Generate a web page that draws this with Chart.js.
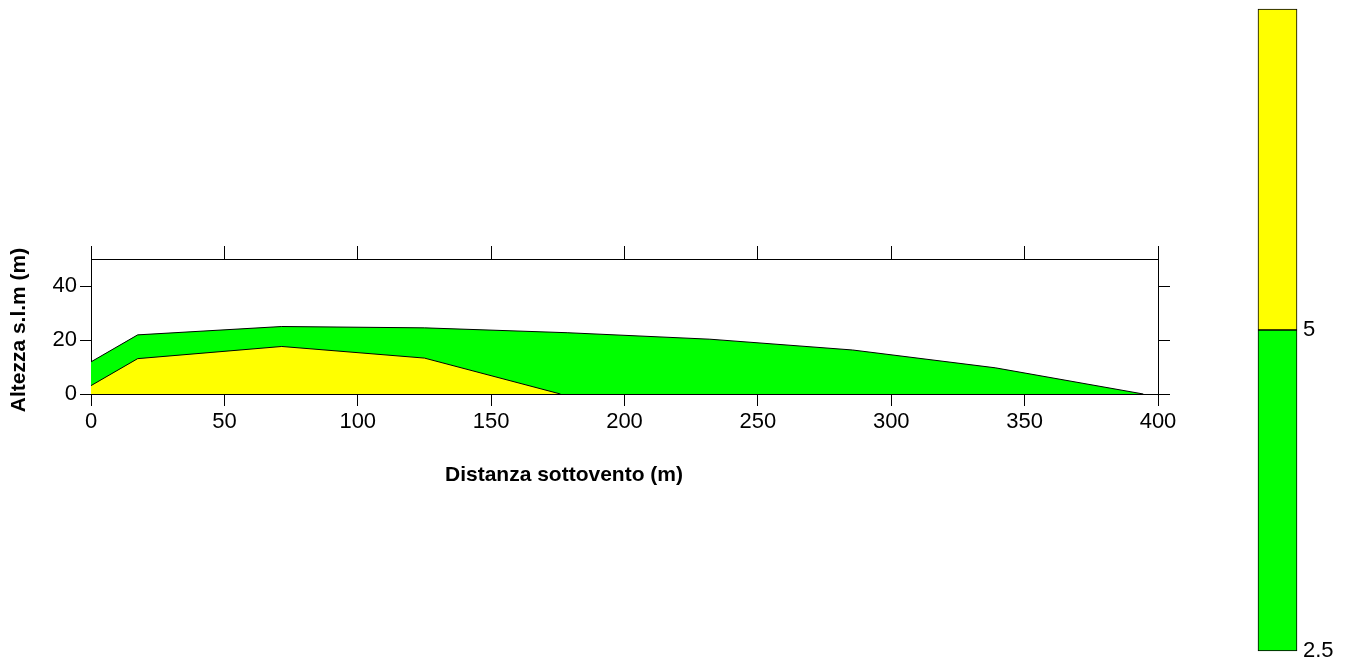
<!DOCTYPE html>
<html>
<head>
<meta charset="utf-8">
<script src="https://cdn.jsdelivr.net/npm/chart.js@4/dist/chart.umd.min.js"></script>
<style>
  html, body { margin: 0; padding: 0; background: #fff; }
  #main { position: absolute; left: 0; top: 0; }
  #bar { position: absolute; left: 1240px; top: 0; }
</style>
</head>
<body>
<canvas id="main" width="1352" height="664"></canvas>
<canvas id="bar" width="112" height="664"></canvas>
<script>
// ---- data ----
const greenX = [0, 17.5, 71.5, 125, 178.5, 232, 285.5, 339, 394.5];
const greenY = [11.9, 21.9, 25.0, 24.5, 22.7, 20.3, 16.3, 9.7, 0];
const yellowX = [0, 17.5, 71.5, 125, 176];
const yellowY = [3.1, 13.1, 17.6, 13.3, 0];
const xTicks = [0, 50, 100, 150, 200, 250, 300, 350, 400];
const yTicks = [0, 20, 40];
const levels = [2.5, 5, 7.5];
const levelLabels = ['2.5', '5'];
const levelColors = ['#00ff00', '#ffff00'];
const xTitle = 'Distanza sottovento (m)';
const yTitle = 'Altezza s.l.m (m)';

Chart.defaults.font.family = '"Liberation Sans", Arial, sans-serif';
Chart.defaults.font.size = 22;
Chart.defaults.color = '#000';

const pts = (xs, ys) => xs.map((x, i) => ({ x: x, y: ys[i] }));
const fixTicks = (arr) => (scale) => { scale.ticks = arr.map(v => ({ value: v })); };

const gridOpts = { drawOnChartArea: false, drawTicks: true, tickLength: 12, color: '#000', lineWidth: 1 };
const borderOpts = { display: true, color: '#000', width: 1 };

const titlePlugin = {
  id: 'titles',
  afterDraw(chart) {
    const ctx = chart.ctx;
    const a = chart.chartArea;
    ctx.save();
    ctx.fillStyle = '#000';
    ctx.font = 'bold 21px "Liberation Sans", Arial, sans-serif';
    ctx.textAlign = 'center';
    ctx.textBaseline = 'alphabetic';
    ctx.fillText(xTitle, a.left + 473, a.bottom + 87);
    ctx.translate(25, a.top + 71);
    ctx.rotate(-Math.PI / 2);
    ctx.fillText(yTitle, 0, 0);
    ctx.restore();
  }
};

new Chart(document.getElementById('main'), {
  type: 'line',
  data: {
    datasets: [
      { data: pts(yellowX, yellowY), borderColor: '#000', borderWidth: 1, backgroundColor: '#ffff00',
        fill: 'origin', pointRadius: 0, tension: 0 },
      { data: pts(greenX, greenY), borderColor: '#000', borderWidth: 1, backgroundColor: '#00ff00',
        fill: 'origin', pointRadius: 0, tension: 0 }
    ]
  },
  options: {
    responsive: false,
    animation: false,
    events: [],
    layout: { padding: 0 },
    plugins: { legend: { display: false }, tooltip: { enabled: false }, title: { display: false } },
    scales: {
      x: {
        type: 'linear', position: 'bottom', min: 0, max: 400,
        afterBuildTicks: fixTicks(xTicks),
        afterFit: (s) => { s.height = 270; },
        grid: gridOpts, border: borderOpts,
        ticks: { padding: 3, maxRotation: 0, autoSkip: false }
      },
      x2: {
        type: 'linear', position: 'top', min: 0, max: 400,
        afterBuildTicks: fixTicks(xTicks),
        afterFit: (s) => { s.height = 259; },
        grid: Object.assign({}, gridOpts, { tickLength: 13 }), border: borderOpts,
        ticks: { callback: () => '' }
      },
      y: {
        type: 'linear', position: 'left', min: 0, max: 50,
        afterBuildTicks: fixTicks(yTicks),
        afterFit: (s) => { s.width = 91; },
        grid: Object.assign({}, gridOpts, { tickLength: 11 }), border: borderOpts,
        ticks: { padding: 3 }
      },
      y2: {
        type: 'linear', position: 'right', min: 0, max: 50,
        afterBuildTicks: fixTicks(yTicks),
        afterFit: (s) => { s.width = 194; },
        grid: gridOpts, border: borderOpts,
        ticks: { callback: () => '' }
      }
    }
  },
  plugins: [titlePlugin]
});

// ---- colour bar ----
new Chart(document.getElementById('bar'), {
  type: 'bar',
  data: {
    labels: [''],
    datasets: levelColors.map((c, i) => ({
      data: [[levels[i], levels[i + 1]]],
      backgroundColor: c, borderColor: '#000', borderWidth: 1, borderSkipped: false,
      barPercentage: 1, categoryPercentage: 1, grouped: false, clip: false
    }))
  },
  options: {
    responsive: false,
    animation: false,
    events: [],
    layout: { padding: { left: 18, top: 9, bottom: 13, right: 0 } },
    plugins: { legend: { display: false }, tooltip: { enabled: false } },
    scales: {
      x: { display: false },
      y: {
        position: 'right', min: levels[0], max: levels[levels.length - 1],
        afterBuildTicks: fixTicks(levels.slice(0, levelLabels.length)),
        afterFit: (s) => { s.width = 55; s.paddingTop = 0; s.paddingBottom = 0; },
        grid: { display: false, drawTicks: false },
        border: { display: false },
        ticks: { padding: 6, callback: (v, i) => levelLabels[i] }
      }
    }
  }
});
</script>
</body>
</html>
